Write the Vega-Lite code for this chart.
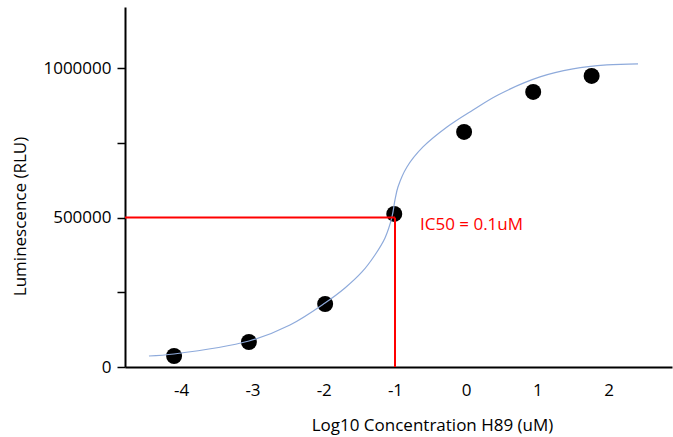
{
  "$schema": "https://vega.github.io/schema/vega-lite/v6.json",
  "width": 547,
  "height": 360,
  "autosize": "none",
  "padding": {"left": 125, "top": 7, "right": 1, "bottom": 70},
  "background": "white",
  "config": {
    "view": {"stroke": null},
    "font": "Open Sans",
    "axis": {"grid": false, "labelFont": "Open Sans", "titleFont": "Open Sans", "labelColor": "black", "titleColor": "black", "titleFontWeight": "normal", "labelFontSize": 17, "titleFontSize": 17}
  },
  "datasets": {
    "points": [
      {"logc": -4.10, "rlu": 36800},
      {"logc": -3.05, "rlu": 83700},
      {"logc": -1.98, "rlu": 210900},
      {"logc": -1.01, "rlu": 512200},
      {"logc": -0.03, "rlu": 786800},
      {"logc": 0.94, "rlu": 920700},
      {"logc": 1.76, "rlu": 974300}
    ],
    "fit": [
      {"logc": -4.453, "rlu": 36800},
      {"logc": -4.102, "rlu": 43500},
      {"logc": -3.049, "rlu": 87000},
      {"logc": -2.474, "rlu": 140600},
      {"logc": -1.982, "rlu": 214300},
      {"logc": -1.702, "rlu": 264500},
      {"logc": -1.463, "rlu": 318100},
      {"logc": -1.281, "rlu": 375000},
      {"logc": -1.140, "rlu": 431900},
      {"logc": -1.042, "rlu": 502200},
      {"logc": -1.0, "rlu": 559100},
      {"logc": -0.958, "rlu": 602600},
      {"logc": -0.832, "rlu": 669600},
      {"logc": -0.607, "rlu": 736600},
      {"logc": -0.270, "rlu": 803500},
      {"logc": 0.095, "rlu": 860400},
      {"logc": 0.446, "rlu": 910700},
      {"logc": 1.035, "rlu": 970900},
      {"logc": 1.498, "rlu": 997700},
      {"logc": 1.975, "rlu": 1011100},
      {"logc": 2.411, "rlu": 1014400}
    ],
    "ic50": [
      {"x": -4.789, "x2": -1, "y": 500000, "y2": 500000},
      {"x": -1, "x2": -1, "y": 0, "y2": 500000}
    ],
    "label": [
      {"logc": -0.649, "rlu": 475400, "text": "IC50 = 0.1uM"}
    ]
  },
  "layer": [
    {
      "data": {"name": "points"},
      "mark": {"type": "point", "filled": true, "color": "black", "opacity": 1, "size": 255, "shape": "circle"},
      "encoding": {
        "x": {
          "field": "logc", "type": "quantitative",
          "scale": {"domain": [-4.789, 2.888], "nice": false, "zero": false},
          "axis": {
            "title": "Log10 Concentration H89 (uM)",
            "values": [-4, -3, -2, -1, 0, 1, 2],
            "labelExpr": "toString(datum.value)",
            "ticks": false, "tickSize": 0,
            "labelPadding": 15,
            "domainColor": "black", "domainWidth": 2,
            "titleX": 307, "titleY": 58, "titleAlign": "center", "titleBaseline": "middle", "titleAnchor": null
          }
        },
        "y": {
          "field": "rlu", "type": "quantitative",
          "scale": {"domain": [0, 1205000], "nice": false},
          "axis": {
            "title": "Luminescence (RLU)",
            "values": [0, 250000, 500000, 750000, 1000000],
            "labelExpr": "datum.value % 500000 === 0 ? toString(datum.value) : ''",
            "tickSize": 8, "tickColor": "black", "tickWidth": 1.5,
            "labelPadding": 6,
            "domainColor": "black", "domainWidth": 2,
            "titleX": -105, "titleY": 209, "titleAngle": -90, "titleAlign": "center", "titleBaseline": "middle", "titleAnchor": null
          }
        }
      }
    },
    {
      "data": {"name": "fit"},
      "mark": {"type": "line", "color": "#8EAADB", "strokeWidth": 1.2, "interpolate": "catmull-rom"},
      "encoding": {
        "x": {"field": "logc", "type": "quantitative"},
        "y": {"field": "rlu", "type": "quantitative"}
      }
    },
    {
      "data": {"name": "ic50"},
      "mark": {"type": "rule", "color": "#FF0000", "strokeWidth": 2},
      "encoding": {
        "x": {"field": "x", "type": "quantitative"},
        "x2": {"field": "x2"},
        "y": {"field": "y", "type": "quantitative"},
        "y2": {"field": "y2"}
      }
    },
    {
      "data": {"name": "label"},
      "mark": {"type": "text", "color": "#FF0000", "font": "Open Sans", "fontSize": 17, "align": "left", "baseline": "middle"},
      "encoding": {
        "x": {"field": "logc", "type": "quantitative"},
        "y": {"field": "rlu", "type": "quantitative"},
        "text": {"field": "text"}
      }
    }
  ]
}
